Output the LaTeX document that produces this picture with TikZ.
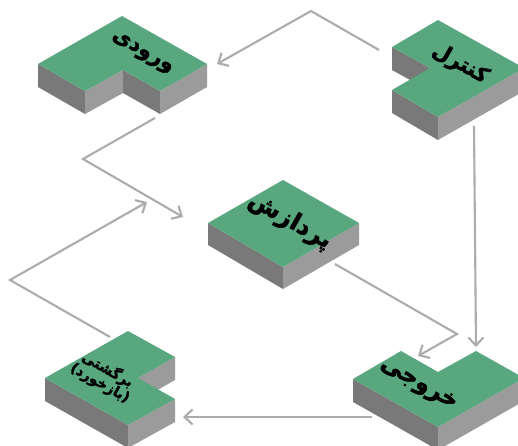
\documentclass[tikz,border=0pt]{standalone}
\usepackage{fontspec}
\usepackage{tikz}
\usetikzlibrary{arrows.meta,positioning}
\newfontfamily\farsifont[Script=Arabic,FakeBold=2]{DejaVu Sans Bold}
\TeXXeTstate=1
\definecolor{TopGreen}{RGB}{88,167,126}
\definecolor{SideDark}{RGB}{120,121,120}
\definecolor{SideLight}{RGB}{154,155,154}
\definecolor{LinkGray}{RGB}{172,172,172}

\begin{document}
\begin{tikzpicture}[x=1pt,y=-1pt,
    top/.style={fill=TopGreen},
    dark/.style={fill=SideDark},
    light/.style={fill=SideLight},
    label/.style={font=\farsifont\fontsize{21}{22}\selectfont,
                  rotate=-29.5,text=black,inner sep=0pt,align=center},
    arr/.style={-{Straight Barb[length=8pt,width=15pt]},LinkGray,line width=2.1pt}
  ]
    \clip (0,0) rectangle (518,445);
    \fill[white] (0,0) rectangle (518,445);

    % input
    \fill[dark] (38,64) -- (85,91) -- ++(0,23) -- (38,87) -- cycle;
    \fill[light] (85,91) -- (123,70) -- ++(0,23) -- (85,114) -- cycle;
    \fill[dark] (123,70) -- (160,91) -- ++(0,23) -- (123,93) -- cycle;
    \fill[light] (160,91) -- (207,64) -- ++(0,23) -- (160,114) -- cycle;
    \fill[top] (122,16) -- (207,64) -- (160,91) -- (123,70) -- (85,91) -- (38,64) -- cycle;
    \node[label] (input) at (142,53) {\beginR ورودی\endR};

    % control
    \fill[dark] (392,47) -- (430,68) -- ++(0,23) -- (392,70) -- cycle;
    \fill[dark] (392,90) -- (438,117) -- ++(0,23) -- (392,113) -- cycle;
    \fill[light] (438,117) -- (524,68) -- ++(0,23) -- (438,140) -- cycle;
    \fill[top] (392,47) -- (438,20) -- (524,68) -- (438,117) -- (392,90) -- (430,68) -- cycle;
    \node[label] (control) at (460,64) {\beginR کنترل\endR};

    % processing
    \fill[dark] (208,223) -- (283,267) -- ++(0,22) -- (208,245) -- cycle;
    \fill[light] (283,267) -- (359,223) -- ++(0,22) -- (283,289) -- cycle;
    \fill[top] (283,180) -- (359,223) -- (283,267) -- (208,223) -- cycle;
    \node[label,font=\farsifont\fontsize{24}{25}\selectfont] (process) at (290,221) {\beginR پردازش\endR};

    % output
    \fill[dark] (353,379) -- (438,427) -- ++(0,23) -- (353,402) -- cycle;
    \fill[light] (438,427) -- (524,378) -- ++(0,23) -- (438,450) -- cycle;
    \fill[top] (353,379) -- (401,351) -- (438,372) -- (476,351) -- (524,378) -- (438,427) -- cycle;
    \node[label,font=\farsifont\fontsize{23}{24}\selectfont] (output) at (418,385) {\beginR خروجی\endR};

    % feedback
    \fill[dark] (45,378) -- (128,425) -- ++(0,23) -- (45,401) -- cycle;
    \fill[light] (128,425) -- (175,399) -- ++(0,23) -- (128,448) -- cycle;
    \fill[light] (138,378) -- (175,357) -- ++(0,23) -- (138,401) -- cycle;
    \fill[top] (128,331) -- (175,357) -- (138,378) -- (175,399) -- (128,425) -- (45,378) -- cycle;
    \node[label,font=\farsifont\fontsize{14}{14}\selectfont] (feedback) at (104,376)
      {\beginR برگشتی\endR\\\beginR (بازخورد)\endR};

    % links
    \coordinate (ctrl-w) at (379,50);
    \coordinate (bend-top) at (311,11);
    \coordinate (input-e) at (217,64);
    \coordinate (input-s) at (155,118);
    \coordinate (bend-in) at (83,159);
    \coordinate (process-w) at (183,217);
    \coordinate (feedback-n) at (110,337);
    \coordinate (bend-fb) at (10,280);
    \coordinate (process-nw) at (147,202);
    \coordinate (process-se) at (335,264);
    \coordinate (bend-out) at (457,334);
    \coordinate (output-n) at (418,356);
    \coordinate (ctrl-s) at (474,126);
    \coordinate (output-ne) at (476,347);
    \coordinate (output-w) at (372,417);
    \coordinate (feedback-e) at (183,417);

    \draw[arr] (ctrl-w) -- (bend-top) -- (input-e);
    \draw[arr] (input-s) -- (bend-in) -- (process-w);
    \draw[arr] (feedback-n) -- (bend-fb) -- (process-nw);
    \draw[arr] (process-se) -- (bend-out) -- (output-n);
    \draw[arr] (ctrl-s) -- (output-ne);
    \draw[arr] (output-w) -- (feedback-e);
\end{tikzpicture}
\end{document}
